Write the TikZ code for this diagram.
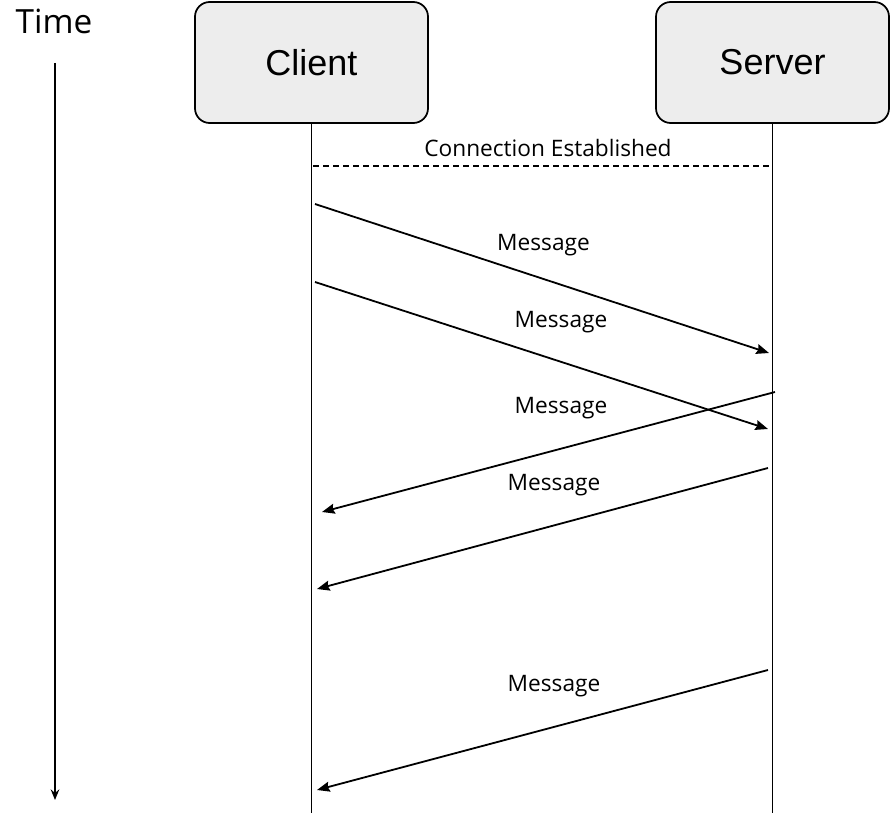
\documentclass[tikz,border=0pt]{standalone}
\usepackage{fontspec}
\setmainfont{Open Sans}
\newfontfamily\boxfont{Liberation Sans}
\usetikzlibrary{arrows.meta}

\tikzset{
  actor/.style={draw=black, line width=1.3pt, fill=black!7, rounded corners=11pt,
    minimum width=174.75pt, minimum height=90.75pt, inner sep=0pt,
    font=\boxfont\fontsize{27pt}{32pt}\selectfont},
  lifeline/.style={line width=1.35pt},
  msg/.style={line width=1.35pt, -{Stealth[length=9.5pt,width=7.5pt,inset=1.2pt]}},
  msglabel/.style={inner sep=0pt, font=\fontsize{17pt}{20pt}\selectfont},
  established/.style={line width=1.2pt, dash pattern=on 4.5pt off 3pt},
  timeline/.style={line width=1.35pt, -{Stealth[length=8pt,width=6.5pt,inset=2.8pt]}}
}

\begin{document}
\begin{tikzpicture}[x=0.75pt,y=-0.75pt]
  \useasboundingbox (0,0) rectangle (890,813);

  % time axis
  \node[inner sep=0pt, font=\fontsize{25pt}{30pt}\selectfont] (time) at (54,21) {Time};
  \coordinate (t0) at (55,63);
  \coordinate (t1) at (55,800);
  \draw[timeline] (t0) -- (t1);

  % participants
  \node[actor] (client) at (311.5,62.5) {Client};
  \node[actor] (server) at (772.5,62.5) {Server};

  % lifelines
  \coordinate (cend) at (client.south |- 0,813);
  \coordinate (send) at (server.south |- 0,813);
  \draw[lifeline] (client.south) -- (cend);
  \draw[lifeline] (server.south) -- (send);

  % connection established
  \coordinate (ce0) at (313,166);
  \coordinate (ce1) at (771,166);
  \draw[established] (ce0) -- (ce1);
  \node[msglabel] (celabel) at (548,148) {Connection Established};

  % message endpoints
  \coordinate (c1) at (315,204);
  \coordinate (s1) at (769,353);
  \coordinate (c2) at (315,282);
  \coordinate (s2) at (768,429);
  \coordinate (s3) at (775,392);
  \coordinate (c3) at (322,512);
  \coordinate (s4) at (768,468);
  \coordinate (c4) at (317,589);
  \coordinate (s5) at (768,670);
  \coordinate (c5) at (317,790);

  % messages
  \draw[msg] (c1) -- (s1);
  \draw[msg] (c2) -- (s2);
  \draw[msg] (s3) -- (c3);
  \draw[msg] (s4) -- (c4);
  \draw[msg] (s5) -- (c5);

  \node[msglabel] (m1) at (543.5,245) {Message};
  \node[msglabel] (m2) at (561,322) {Message};
  \node[msglabel] (m3) at (561,408) {Message};
  \node[msglabel] (m4) at (554,485) {Message};
  \node[msglabel] (m5) at (554,686) {Message};
\end{tikzpicture}
\end{document}
